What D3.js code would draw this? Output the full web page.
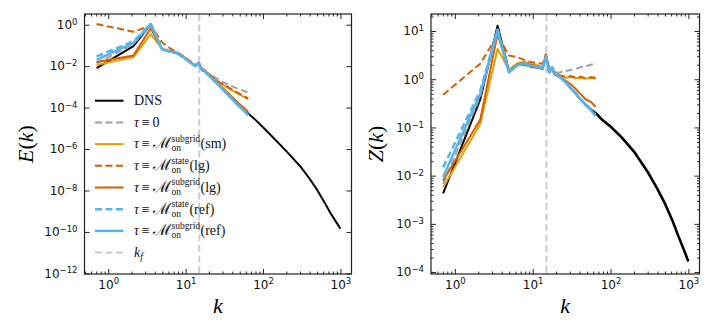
<!DOCTYPE html>
<html>
<head>
<meta charset="utf-8">
<script src="https://cdn.jsdelivr.net/npm/d3@7"></script>
<style>
body { margin: 0; background: #fff; }
</style>
</head>
<body>
<script>
// wavenumbers of the coarse spectra and of the DNS tail
var kCoarse = [0.707, 2.12, 3.54, 4.95, 6.36, 7.78, 9.19, 10.6, 12.0, 13.4, 14.8, 16.3, 17.7, 19.1, 20.5, 23.3, 26.9, 31.1, 36.1, 41.7, 48.1, 55.9, 64.3];
var kTail = [64.3, 79.4, 100, 138, 200, 305, 398, 501, 631, 746, 891, 1000];
var kForcing = 15;

// log10 E(k)
var E_dns = [-2.10, -1.03, 0.03, -1.19, -1.30, -1.38, -1.55, -1.72, -1.87, -1.99, -1.86, -2.19, -2.25, -2.40, -2.49, -2.69, -2.93, -3.17, -3.42, -3.66, -3.89, -4.10, -4.28];
var E_dnsTail = [-4.28, -4.58, -4.95, -5.48, -6.10, -6.85, -7.42, -7.98, -8.62, -9.10, -9.55, -9.85];
var E_zero = [-1.87, -0.93, 0.03, -1.18, -1.29, -1.37, -1.54, -1.71, -1.86, -1.98, -1.85, -2.16, -2.24, -2.31, -2.38, -2.52, -2.66, -2.79, -2.90, -3.00, -3.10, -3.19, -3.28];
var E_sm = [-1.94, -1.56, -0.46, -1.16, -1.27, -1.35, -1.52, -1.69, -1.84, -1.96, -1.84, -2.14, -2.22, -2.33, -2.42, -2.61, -2.80, -2.93, -3.07, -3.21, -3.34, -3.47, -3.60];
var E_lgState = [0.03, -0.34, -0.05, -0.85, -1.15, -1.33, -1.50, -1.67, -1.82, -1.95, -1.83, -2.12, -2.20, -2.31, -2.40, -2.58, -2.77, -2.90, -3.03, -3.17, -3.30, -3.43, -3.55];
var E_lgSub = [-1.80, -1.49, -0.17, -1.18, -1.29, -1.37, -1.54, -1.71, -1.86, -1.98, -1.85, -2.17, -2.24, -2.37, -2.45, -2.65, -2.88, -3.10, -3.33, -3.56, -3.79, -4.00, -4.20];
var E_refState = [-1.53, -0.80, 0.03, -1.19, -1.30, -1.38, -1.55, -1.72, -1.87, -1.99, -1.86, -2.19, -2.25, -2.39, -2.48, -2.68, -2.92, -3.17, -3.42, -3.66, -3.90, -4.13, -4.36];
var E_refSub = [-1.70, -0.88, 0.03, -1.19, -1.30, -1.38, -1.55, -1.72, -1.87, -1.99, -1.86, -2.19, -2.25, -2.39, -2.48, -2.68, -2.92, -3.17, -3.42, -3.66, -3.90, -4.13, -4.36];

// log10 Z(k)
var Z_dns = [-2.37, -0.42, 1.11, 0.18, 0.30, 0.31, 0.27, 0.25, 0.24, 0.21, 0.49, 0.14, 0.22, 0.10, 0.08, 0.02, -0.08, -0.19, -0.31, -0.43, -0.53, -0.62, -0.70];
var Z_dnsTail = [-0.70, -0.85, -0.98, -1.20, -1.50, -1.94, -2.27, -2.58, -2.95, -3.26, -3.57, -3.78];
var Z_zero = [-2.17, -0.36, 1.05, 0.17, 0.30, 0.32, 0.28, 0.26, 0.25, 0.22, 0.49, 0.17, 0.22, 0.16, 0.13, 0.15, 0.17, 0.19, 0.22, 0.25, 0.27, 0.30, 0.33];
var Z_sm = [-2.24, -0.93, 0.63, 0.20, 0.33, 0.36, 0.32, 0.30, 0.28, 0.25, 0.50, 0.20, 0.24, 0.12, 0.09, 0.06, 0.03, 0.05, 0.02, 0.03, 0.01, 0.03, 0.01];
var Z_lgState = [-0.32, 0.32, 0.92, 0.49, 0.46, 0.40, 0.36, 0.34, 0.33, 0.32, 0.52, 0.24, 0.27, 0.15, 0.12, 0.07, 0.05, 0.06, 0.03, 0.05, 0.02, 0.04, 0.03];
var Z_lgSub = [-2.10, -0.84, 0.94, 0.16, 0.31, 0.34, 0.30, 0.28, 0.26, 0.23, 0.50, 0.18, 0.25, 0.12, 0.10, 0.03, -0.04, -0.11, -0.21, -0.32, -0.42, -0.47, -0.57];
var Z_refState = [-1.83, -0.24, 1.03, 0.16, 0.29, 0.33, 0.28, 0.27, 0.25, 0.22, 0.47, 0.15, 0.24, 0.12, 0.10, 0.03, -0.07, -0.18, -0.30, -0.42, -0.53, -0.62, -0.74];
var Z_refSub = [-2.03, -0.30, 1.00, 0.14, 0.29, 0.33, 0.28, 0.27, 0.25, 0.22, 0.47, 0.15, 0.24, 0.12, 0.09, 0.02, -0.08, -0.19, -0.31, -0.43, -0.54, -0.64, -0.76];

var yTicksE = [0, -2, -4, -6, -8, -10, -12];
var yTicksZ = [1, 0, -1, -2, -3, -4];
var xTicks = [0, 1, 2, 3];

// styles for each series (legend order)
var styles = [
    { key: "dns", color: "#000000", dash: null, width: 2 },
    { key: "zero", color: "#a0a0a0", dash: "7,3.5", width: 2 },
    { key: "sm", color: "#E69F00", dash: null, width: 2 },
    { key: "lgState", color: "#D55E00", dash: "7,3.5", width: 2 },
    { key: "lgSub", color: "#D55E00", dash: null, width: 2 },
    { key: "refState", color: "#56B4E9", dash: "7,3.5", width: 2.5 },
    { key: "refSub", color: "#56B4E9", dash: null, width: 2.5 }
];

var svg = d3.select("body").append("svg")
    .attr("width", 714)
    .attr("height", 333);

function zip(ks, vs) {
    return ks.map(function (k, i) { return [k, vs[i]]; });
}

function supLabel(sel, e) {
    sel.each(function () {
        var t = d3.select(this).text("");
        t.append("tspan").text("10");
        t.append("tspan").attr("dy", "-0.5em").attr("font-size", "8.5px")
            .text(String(e(this)).replace("-", "\u2212"));
    });
}

function panel(opt) {
    var x = d3.scaleLog().domain([0.494, 1390]).range([opt.left, opt.right]);
    var y = d3.scaleLog().domain(opt.yDomain).range([274, 14]);
    var g = svg.append("g");

    var clipId = "clip" + opt.id;
    svg.append("clipPath").attr("id", clipId).append("rect")
        .attr("x", opt.left).attr("y", 14)
        .attr("width", opt.right - opt.left).attr("height", 260);

    // forcing wavenumber
    g.append("line")
        .attr("x1", x(kForcing)).attr("x2", x(kForcing))
        .attr("y1", 14).attr("y2", 274)
        .attr("stroke", "#cccccc").attr("stroke-width", 2)
        .attr("stroke-dasharray", "7,3.5");

    var line = d3.line()
        .x(function (d) { return x(d[0]); })
        .y(function (d) { return y(Math.pow(10, d[1])); });

    var plot = g.append("g").attr("clip-path", "url(#" + clipId + ")");
    plot.append("path")
        .datum(zip(kTail, opt.tail))
        .attr("d", line)
        .attr("fill", "none")
        .attr("stroke", "#000")
        .attr("stroke-width", opt.tailWidth);
    styles.forEach(function (s) {
        plot.append("path")
            .datum(zip(kCoarse, opt.series[s.key]))
            .attr("d", line)
            .attr("fill", "none")
            .attr("stroke", s.color)
            .attr("stroke-width", s.width)
            .attr("stroke-dasharray", s.dash)
            .attr("stroke-linejoin", "round");
    });

    // minor ticks
    var xMinor = [];
    var yMinor = [];
    for (var e = -1; e <= 3; e++) {
        for (var m = 2; m <= 9; m++) {
            var v = m * Math.pow(10, e);
            if (v > 0.494 && v < 1390) xMinor.push(v);
        }
    }
    if (opt.yMinor) {
        for (var e2 = -5; e2 <= 1; e2++) {
            for (var m2 = 2; m2 <= 9; m2++) {
                var v2 = m2 * Math.pow(10, e2);
                if (v2 > opt.yDomain[0] && v2 < opt.yDomain[1]) yMinor.push(v2);
            }
        }
    }
    var xv = xTicks.map(function (e) { return Math.pow(10, e); });
    var yv = opt.yTicks.map(function (e) { return Math.pow(10, e); });

    var axes = [
        [d3.axisBottom(x).tickValues(xv), "translate(0,274)", true],
        [d3.axisTop(x).tickValues(xv), "translate(0,14)", false],
        [d3.axisLeft(y).tickValues(yv), "translate(" + opt.left + ",0)", true],
        [d3.axisRight(y).tickValues(yv), "translate(" + opt.right + ",0)", false],
        [d3.axisBottom(x).tickValues(xMinor), "translate(0,274)", false, 2.5],
        [d3.axisTop(x).tickValues(xMinor), "translate(0,14)", false, 2.5],
        [d3.axisLeft(y).tickValues(yMinor), "translate(" + opt.left + ",0)", false, 2.5],
        [d3.axisRight(y).tickValues(yMinor), "translate(" + opt.right + ",0)", false, 2.5]
    ];
    axes.forEach(function (a, i) {
        var ax = a[0].tickSize(-(a[3] || 5)).tickSizeOuter(0)
            .tickPadding(i === 0 ? 6 : 7);
        if (!a[2]) ax.tickFormat("");
        var ag = g.append("g").attr("transform", a[1]).call(ax);
        ag.select(".domain").remove();
        ag.selectAll(".tick line").attr("stroke", "#222").attr("stroke-width", 1);
        ag.selectAll(".tick text")
            .attr("font-family", "DejaVu Sans")
            .attr("font-size", "12px")
            .attr("fill", "#111");
        if (a[2]) {
            supLabel(ag.selectAll(".tick text"), function (node) {
                return Math.round(Math.log10(d3.select(node).datum()));
            });
        }
    });

    g.append("rect")
        .attr("x", opt.left).attr("y", 14)
        .attr("width", opt.right - opt.left).attr("height", 260)
        .attr("fill", "none").attr("stroke", "#222").attr("stroke-width", 1.2);

    // axis labels
    g.append("text")
        .attr("x", (opt.left + opt.right) / 2).attr("y", 313)
        .attr("text-anchor", "middle")
        .attr("font-family", "Liberation Serif").attr("font-style", "italic")
        .attr("font-size", "22px")
        .text("k");
    var yl = g.append("text")
        .attr("transform", "translate(" + opt.yLabelX + ",144) rotate(-90)")
        .attr("text-anchor", "middle")
        .attr("font-family", "Liberation Serif")
        .attr("font-size", "22px");
    yl.append("tspan").attr("font-style", "italic").text(opt.yLabel);
    yl.append("tspan").text("(");
    yl.append("tspan").attr("font-style", "italic").text("k");
    yl.append("tspan").text(")");
    return g;
}

panel({
    id: "E", left: 84.5, right: 351.5,
    yDomain: [Math.pow(10, -12.03), Math.pow(10, 0.516)],
    yTicks: yTicksE, yMinor: false, yLabel: "E", yLabelX: 33,
    tail: E_dnsTail, tailWidth: 2,
    series: { dns: E_dns, zero: E_zero, sm: E_sm, lgState: E_lgState, lgSub: E_lgSub, refState: E_refState, refSub: E_refSub }
});

panel({
    id: "Z", left: 431, right: 699.5,
    yDomain: [Math.pow(10, -4.04), Math.pow(10, 1.353)],
    yTicks: yTicksZ, yMinor: true, yLabel: "Z", yLabelX: 383,
    tail: Z_dnsTail, tailWidth: 2.6,
    series: { dns: Z_dns, zero: Z_zero, sm: Z_sm, lgState: Z_lgState, lgSub: Z_lgSub, refState: Z_refState, refSub: Z_refSub }
});

// legend
var legendItems = [
    { style: 0, text: "DNS" },
    { style: 1, zero: true },
    { style: 2, sup: "subgrid", tail: "(sm)" },
    { style: 3, sup: "state", tail: "(lg)" },
    { style: 4, sup: "subgrid", tail: "(lg)" },
    { style: 5, sup: "state", tail: "(ref)" },
    { style: 6, sup: "subgrid", tail: "(ref)" },
    { kf: true }
];
var lg = svg.append("g").attr("font-family", "Liberation Serif").attr("fill", "#111");
legendItems.forEach(function (d, i) {
    var cy = 100.7 + i * 21.7;
    var s = d.kf ? { color: "#cccccc", dash: "7,3.5", width: 2 } : styles[d.style];
    lg.append("line")
        .attr("x1", 95).attr("x2", 123.5).attr("y1", cy).attr("y2", cy)
        .attr("stroke", s.color).attr("stroke-width", s.width)
        .attr("stroke-dasharray", s.dash);
    var bx = 134, by = cy + 4.3;
    var t = lg.append("text").attr("x", bx).attr("y", by).attr("font-size", "14px");
    if (d.text) {
        t.text(d.text);
    } else if (d.zero) {
        t.append("tspan").attr("font-style", "italic").text("\u03C4");
        t.append("tspan").text("\u2009\u2261\u20090");
    } else if (d.kf) {
        t.append("tspan").attr("font-style", "italic").text("k");
        t.append("tspan").attr("font-style", "italic").attr("font-size", "10px").attr("dy", 3).text("f");
    } else {
        t.append("tspan").attr("font-style", "italic").text("\u03C4");
        t.append("tspan").text("\u2009\u2261\u2009");
        t.append("tspan").attr("font-family", "DejaVu Serif").attr("font-size", "16px").text("\u2133");
        var w = t.node().getComputedTextLength();
        var s1 = lg.append("text").attr("x", bx + w + 1).attr("y", by - 6.5)
            .attr("font-size", "9.5px").text(d.sup);
        var s2 = lg.append("text").attr("x", bx + w + 1).attr("y", by + 3)
            .attr("font-size", "9.5px").text("on");
        var w2 = Math.max(s1.node().getComputedTextLength(), s2.node().getComputedTextLength());
        lg.append("text").attr("x", bx + w + 1 + w2 + 0.5).attr("y", by)
            .attr("font-size", "14px").text(d.tail);
    }
});
</script>
</body>
</html>
